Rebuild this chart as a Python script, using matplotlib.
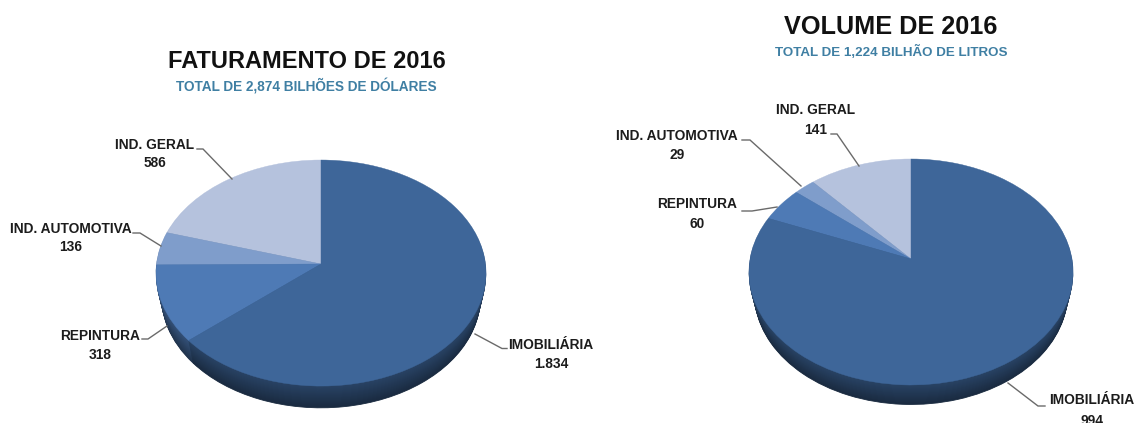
#!/usr/bin/env python3
"""Two tilted 3D-looking pies: revenue and volume by segment, 2016."""

import matplotlib
matplotlib.use("Agg")
import matplotlib.pyplot as plt
import numpy as np
from matplotlib.colors import to_rgb
from matplotlib.transforms import Affine2D, Transform

plt.rcParams["font.family"] = ["Liberation Sans", "DejaVu Sans"]
plt.rcParams["font.weight"] = "bold"

# counterclockwise from the top
SEGMENTS = ["IND. GERAL", "IND. AUTOMOTIVA", "REPINTURA", "IMOBILIÁRIA"]
REVENUE = [586, 136, 318, 1834]
REVENUE_LABELS = ["586", "136", "318", "1.834"]
VOLUME = [141, 29, 60, 994]
VOLUME_LABELS = ["141", "29", "60", "994"]

COLORS = ["#B5C2DD", "#7F9DCB", "#4E7AB5", "#3E6699"]
TEXT = "#1c1c1c"
SUB = "#3F7FA3"
LEADER = "#6a6a6a"


class Tilt(Transform):
    """Perspective tilt of the unit disc, near edge looks bigger."""
    input_dims = 2
    output_dims = 2
    is_separable = False
    has_inverse = False

    def __init__(self, rx, a, k):
        super().__init__()
        self.rx, self.a, self.k = rx, a, k

    def transform_non_affine(self, values):
        values = np.asarray(values)
        u, v = values[:, 0], values[:, 1]
        w = 1 + self.k * v
        return np.column_stack([self.rx * u / w, self.a * v / w])


def draw_pie(ax, values, cx, cy, rx, a, k, depth):
    # side first, one pixel layer at a time, the lower disc a bit narrower
    for d in np.arange(depth, 0, -1.0):
        t = d / depth
        shade = 0.66 - 0.24 * t
        cols = [tuple(c * shade for c in to_rgb(col)) for col in COLORS]
        tilt = Tilt(rx * (1 - 0.035 * t), a * (1 - 0.02 * t), k)
        wedges, _ = ax.pie(values, colors=cols, startangle=90, counterclock=True,
                           wedgeprops={"linewidth": 0.6})
        for w, col in zip(wedges, cols):
            w.set_edgecolor(col)
            w.set_transform(tilt + Affine2D().scale(1, -1).translate(cx, cy + d * 1.1) + ax.transData)
    tilt = Tilt(rx, a, k)
    wedges, _ = ax.pie(values, colors=COLORS, startangle=90, counterclock=True,
                       wedgeprops={"linewidth": 0.3})
    for w, col in zip(wedges, COLORS):
        w.set_edgecolor(col)
        w.set_transform(tilt + Affine2D().scale(1, -1).translate(cx, cy) + ax.transData)


def leader(ax, pts):
    xs, ys = zip(*pts)
    ax.plot(xs, ys, color=LEADER, lw=1.0, solid_joinstyle="miter")


def label(ax, name, val, x, y_name, y_val, size=9.9):
    ax.text(x, y_name, name, ha="center", va="center", fontsize=size, color=TEXT)
    ax.text(x, y_val, val, ha="center", va="center", fontsize=size, color=TEXT)


fig = plt.figure(figsize=(11.44, 4.23), dpi=100)
ax = fig.add_axes([0, 0, 1, 1])

draw_pie(ax, REVENUE, 321, 264, 164.5, 112.3, 0.08, 22)
draw_pie(ax, VOLUME, 911, 259, 161, 111.5, 0.115, 20)

ax.set_aspect("auto")
ax.set_xlim(0, 1144)
ax.set_ylim(423, 0)
ax.axis("off")

ax.text(307, 62, "FATURAMENTO DE 2016", ha="center", va="center", fontsize=17, color="#111111")
ax.text(306, 86, "TOTAL DE 2,874 BILHÕES DE DÓLARES", ha="center", va="center", fontsize=9.8, color=SUB)
ax.text(891, 27, "VOLUME DE 2016", ha="center", va="center", fontsize=18.2, color="#111111")
ax.text(891, 52, "TOTAL DE 1,224 BILHÃO DE LITROS", ha="center", va="center", fontsize=9.6, color=SUB)

# left pie labels
label(ax, SEGMENTS[0], REVENUE_LABELS[0], 155, 145, 163)
label(ax, SEGMENTS[1], REVENUE_LABELS[1], 71, 229, 247)
label(ax, SEGMENTS[2], REVENUE_LABELS[2], 100, 336, 355)
label(ax, SEGMENTS[3], REVENUE_LABELS[3], 551, 345, 364)
leader(ax, [(197, 149), (203, 149), (232, 179)])
leader(ax, [(133, 233), (140, 233), (161, 246)])
leader(ax, [(142, 339), (148, 339), (167, 326)])
leader(ax, [(475, 334), (502, 348.5), (507, 348.5)])

# right pie labels
label(ax, SEGMENTS[0], VOLUME_LABELS[0], 816, 110, 130)
label(ax, SEGMENTS[1], VOLUME_LABELS[1], 677, 136, 155)
label(ax, SEGMENTS[2], VOLUME_LABELS[2], 697, 204, 224)
label(ax, SEGMENTS[3], VOLUME_LABELS[3], 1092, 400, 421)
leader(ax, [(831, 134), (837, 134), (859, 166)])
leader(ax, [(742, 140), (750, 140), (801, 186)])
leader(ax, [(742, 211), (752, 211), (777, 207)])
leader(ax, [(1008, 383), (1038, 406), (1045, 406)])

fig.savefig("out.png", dpi=100, facecolor="white")
